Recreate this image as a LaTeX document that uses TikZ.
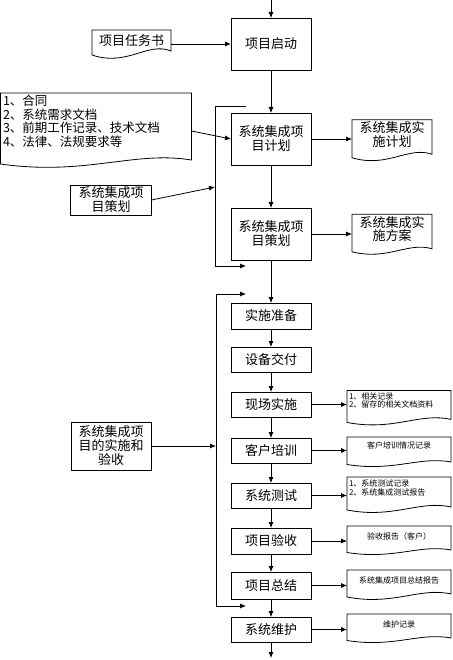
\documentclass[tikz,border=0pt]{standalone}
\usepackage{fontspec}
\setmainfont{Noto Sans CJK SC}
\usetikzlibrary{arrows.meta,calc}
\newcommand\docout[3]{\draw[doc] (#1.north west) -- (#1.north east) -- ($(#1.south east)+(0,#2)$) .. controls ($(#1.south east)!0.3!(#1.south west)+(0,#2-1.2*#3)$) and ($(#1.south east)!0.55!(#1.south west)+(0,#2+2.0*#3)$) .. ($(#1.south west)+(0,#2+0.5*#3)$) -- cycle;}
\tikzset{
 box/.style={draw, line width=0.8pt, minimum width=80pt, inner sep=1pt, outer sep=0pt, align=center, font=\fontsize{13}{14}\selectfont},
 docn/.style={inner sep=2pt, outer sep=0pt, align=center, font=\fontsize{13}{13.5}\selectfont},
 sdoc/.style={docn, minimum width=104pt, text width=100pt, font=\fontsize{8}{8.5}\selectfont},
 doc/.style={draw, line width=0.8pt},
 arr/.style={draw, line width=0.8pt, -{Latex[length=6pt,width=5pt]}},
 ln/.style={draw, line width=0.8pt}
}
\begin{document}
\begin{tikzpicture}[x=1pt,y=-1pt]
\fill[white] (0,0) rectangle (452,660);
\useasboundingbox (0,0) rectangle (452,660);
% main chain
\node[box, minimum height=52pt] (qd) at (271,44) {项目启动};
\node[box, minimum height=52pt] (jh) at (271,139) {系统集成项\\目计划};
\node[box, minimum height=52pt] (ch) at (271,234) {系统集成项\\目策划};
\node[box, minimum height=26pt] (zb) at (271,316) {实施准备};
\node[box, minimum height=25pt] (jf) at (271,359.5) {设备交付};
\node[box, minimum height=25pt] (xc) at (271,404.5) {现场实施};
\node[box, minimum height=25pt] (px) at (271,450.5) {客户培训};
\node[box, minimum height=25pt] (cs) at (271,495.5) {系统测试};
\node[box, minimum height=26pt] (ys) at (271,541) {项目验收};
\node[box, minimum height=27pt] (zj) at (271,585.5) {项目总结};
\node[box, minimum height=25pt] (wh) at (271,629.5) {系统维护};
% left inputs
\node[box, minimum width=81pt, minimum height=30pt] (chin) at (111,200) {系统集成项\\目策划};
\node[box, minimum width=80pt, minimum height=48pt] (ssin) at (111,446) {系统集成项\\目的实施和\\验收};
% documents
\node[docn, minimum width=79pt, minimum height=21pt] (rws) at (131.5,40.5) {项目任务书};
\docout{rws}{0}{8}
\node[docn, minimum width=191pt, minimum height=56pt, text width=186pt, align=left, font=\fontsize{12.5}{13.5}\selectfont] (big) at (96,121) {1、合同\\2、系统需求文档\\3、前期工作记录、技术文档\\4、法律、法规要求等};
\docout{big}{11}{8}
\node[docn, minimum width=80pt, minimum height=27pt] (jhd) at (392,134.5) {系统集成实\\施计划};
\docout{jhd}{5}{7}
\node[docn, minimum width=80pt, minimum height=28pt] (fad) at (392,229) {系统集成实\\施方案};
\docout{fad}{5}{6}
\node[sdoc, minimum height=17pt, align=left] (xcd) at (399,400.5) {1、相关记录\\2、留存的相关文档资料};
\docout{xcd}{9}{6}
\node[sdoc, minimum height=17pt, align=center] (pxd) at (399,445.5) {客户培训情况记录};
\docout{pxd}{8}{5}
\node[sdoc, minimum height=22pt, align=left] (csd) at (399,488) {1、系统测试记录\\2、系统集成测试报告};
\docout{csd}{8}{6}
\node[sdoc, minimum height=20pt, align=center] (ysd) at (399,536) {验收报告（客户）};
\docout{ysd}{4}{5}
\node[sdoc, minimum height=20pt, align=center] (zjd) at (399,580) {系统集成项目总结报告};
\docout{zjd}{4}{6}
\node[sdoc, minimum height=20pt, align=center] (whd) at (399,624) {维护记录};
\docout{whd}{4}{5}
% coordinates
\coordinate (top) at (271,0);
\coordinate (bot) at (271,658);
\coordinate (b1t) at (215,106);
\coordinate (b1te) at (246,106);
\coordinate (b1b) at (215,266);
\coordinate (b1be) at (246,266);
\coordinate (b1m) at (215,187);
\coordinate (b2t) at (216,294);
\coordinate (b2te) at (246,294);
\coordinate (b2b) at (216,606);
\coordinate (b2be) at (246,606);
% connectors
\draw[arr] (top) -- (qd.north);
\draw[arr] (rws.east |- qd.west) -- (qd.west);
\draw[arr] (qd.south) -- (jh.north);
\draw[arr] ([yshift=-10pt]big.east) -- (jh.west);
\draw[arr] (jh.east) -- (jh.east -| jhd.west);
\draw[arr] (jh.south) -- (ch.north);
\draw[arr] (ch.east) -- (ch.east -| fad.west);
\draw[arr] (ch.south) -- (zb.north);
\draw[ln] (b1te) -- (b1t) -- (b1b);
\draw[arr] (b1b) -- (b1be);
\draw[arr] (chin.east) -- (b1m);
\draw[ln] (b2t) -- (b2b);
\draw[arr] (b2t) -- (b2te);
\draw[arr] (b2b) -- (b2be);
\draw[arr] (ssin.east) -- (ssin.east -| b2t);
\draw[arr] (zb.south) -- (jf.north);
\draw[arr] (jf.south) -- (xc.north);
\draw[arr] (xc.south) -- (px.north);
\draw[arr] (px.south) -- (cs.north);
\draw[arr] (cs.south) -- (ys.north);
\draw[arr] (ys.south) -- (zj.north);
\draw[arr] (zj.south) -- (wh.north);
\draw[arr] (wh.south) -- (bot);
\draw[arr] (xc.east) -- (xc.east -| xcd.west);
\draw[arr] (px.east) -- (px.east -| pxd.west);
\draw[arr] (cs.east) -- (cs.east -| csd.west);
\draw[arr] (ys.east) -- (ys.east -| ysd.west);
\draw[arr] (zj.east) -- (zj.east -| zjd.west);
\draw[arr] (wh.east) -- (wh.east -| whd.west);
\end{tikzpicture}
\end{document}
